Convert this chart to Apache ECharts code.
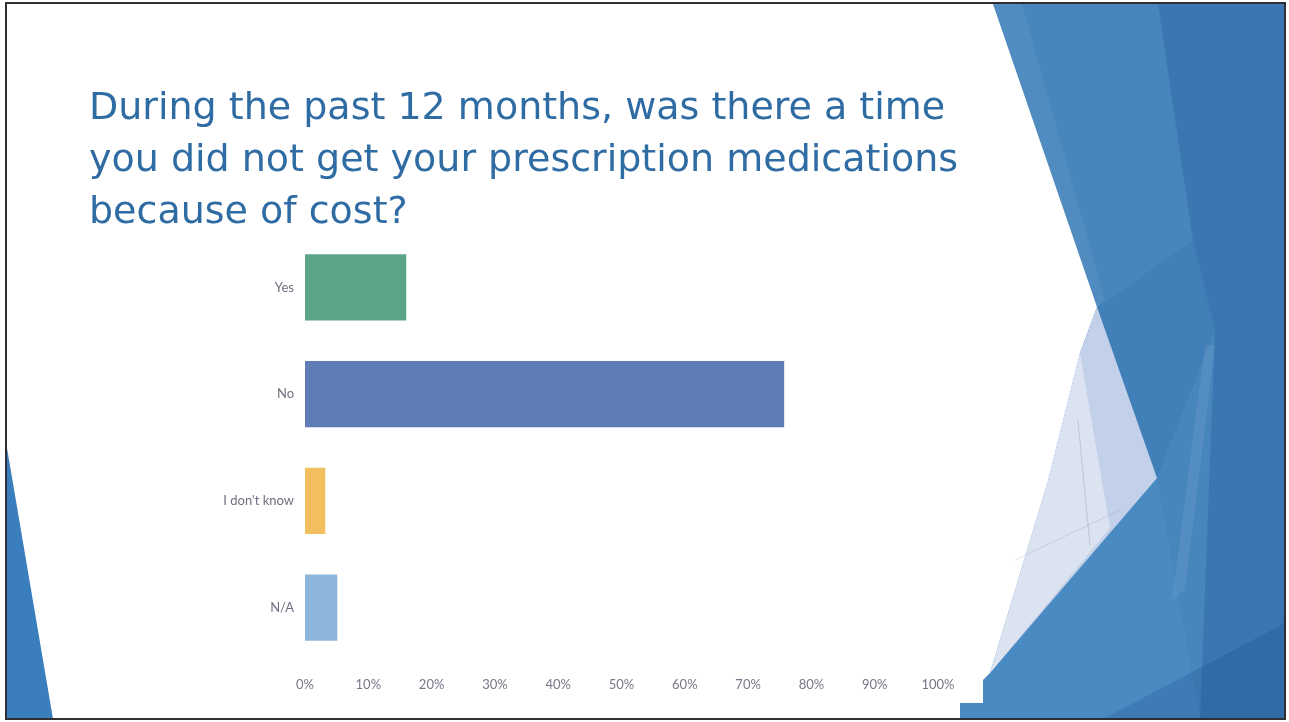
<!DOCTYPE html>
<html>
<head>
<meta charset="utf-8">
<script src="https://cdn.jsdelivr.net/npm/echarts@6/dist/echarts.min.js"></script>
<style>
  html, body { margin: 0; padding: 0; background: #ffffff; }
  #chart { width: 1289px; height: 722px; }
</style>
</head>
<body>
<div id="chart"></div>
<script>
// Survey answers and their share of respondents (%)
const categories = ['Yes', 'No', "I don't know", 'N/A'];
const shares = [16.0, 75.7, 3.2, 5.1];
const titleLines = [
  'During the past 12 months, was there a time',
  'you did not get your prescription medications',
  'because of cost?'
];

// Bar colours, one per answer
const barColors = ['#5aa586', '#5e7cb6', '#f1bf5e', '#8db6dc'];

const chart = echarts.init(document.getElementById('chart'), null, { renderer: 'canvas' });

// Decorative slide artwork: faceted blue panel on the right and a sliver on the left
const decor = [
  { type: 'polygon', z: 0, shape: { points: [[993,4],[1097,307],[1080,353],[1048,481],[990,673],[983,680],[983,703],[960,703],[960,719],[1285,719],[1285,4]] }, style: { fill: '#4785bd' } },
  { type: 'polygon', z: 1, shape: { points: [[993,4],[1022,4],[1105,300],[1097,307]] }, style: { fill: 'rgba(255,255,255,0.06)' } },
  { type: 'polygon', z: 1, shape: { points: [[1158,4],[1285,4],[1285,719],[1200,719],[1215,330],[1193,241]] }, style: { fill: 'rgba(20,70,140,0.22)' } },
  { type: 'polygon', z: 1, shape: { points: [[1097,307],[1193,241],[1215,330],[1157,478]] }, style: { fill: 'rgba(20,75,150,0.10)' } },
  { type: 'polygon', z: 1, shape: { points: [[1205,345],[1215,345],[1185,590],[1172,600]] }, style: { fill: 'rgba(255,255,255,0.07)' } },
  { type: 'polygon', z: 1, shape: { points: [[990,673],[1157,478],[1200,719],[960,719],[960,703],[983,703],[983,680]] }, style: { fill: 'rgba(90,160,220,0.18)' } },
  { type: 'polygon', z: 1, shape: { points: [[1103,719],[1285,719],[1285,623]] }, style: { fill: 'rgba(15,60,130,0.20)' } },
  { type: 'polygon', z: 2, shape: { points: [[1097,307],[1157,478],[990,673],[1048,481],[1080,353]] }, style: { fill: '#c2d0e9' } },
  { type: 'polygon', z: 3, shape: { points: [[1080,353],[1110,528],[990,673],[1048,481]] }, style: { fill: '#dbe2f0' } },
  { type: 'line', z: 4, shape: { x1: 1078, y1: 420, x2: 1090, y2: 545 }, style: { stroke: 'rgba(90,110,160,0.25)', lineWidth: 1 } },
  { type: 'line', z: 4, shape: { x1: 1015, y1: 560, x2: 1120, y2: 510 }, style: { stroke: 'rgba(90,110,160,0.18)', lineWidth: 1 } },
  { type: 'polygon', z: 0, shape: { points: [[7,448],[7,719],[53,719]] }, style: { fill: '#3a7ebd' } },
  { type: 'rect', z: 10, shape: { x: 6, y: 3, width: 1279, height: 716 }, style: { fill: 'none', stroke: '#2e2e33', lineWidth: 2 } }
];

chart.setOption({
  backgroundColor: '#ffffff',
  animation: false,
  title: {
    text: titleLines.join('\n'),
    left: 84,
    top: 78,
    textStyle: {
      fontFamily: 'DejaVu Sans',
      fontSize: 38,
      fontWeight: 'normal',
      lineHeight: 52,
      color: '#2f6ca3'
    }
  },
  graphic: decor,
  grid: { left: 305, right: 351, top: 234, bottom: 61, containLabel: false },
  xAxis: {
    type: 'value',
    min: 0,
    max: 100,
    interval: 10,
    axisLine: { show: false },
    axisTick: { show: false },
    splitLine: { show: false },
    axisLabel: {
      formatter: '{value}%',
      margin: 17,
      color: '#77778a',
      fontFamily: 'Lato',
      fontSize: 13
    }
  },
  yAxis: {
    type: 'category',
    data: categories,
    inverse: true,
    axisLine: { show: false },
    axisTick: { show: false },
    splitLine: { show: false },
    axisLabel: {
      margin: 11,
      color: '#6f6f80',
      fontFamily: 'Lato',
      fontSize: 13
    }
  },
  series: [{
    type: 'bar',
    barCategoryGap: '38%',
    data: shares.map((v, i) => ({ value: v, itemStyle: { color: barColors[i] } })),
    label: { show: false }
  }]
});
</script>
</body>
</html>
